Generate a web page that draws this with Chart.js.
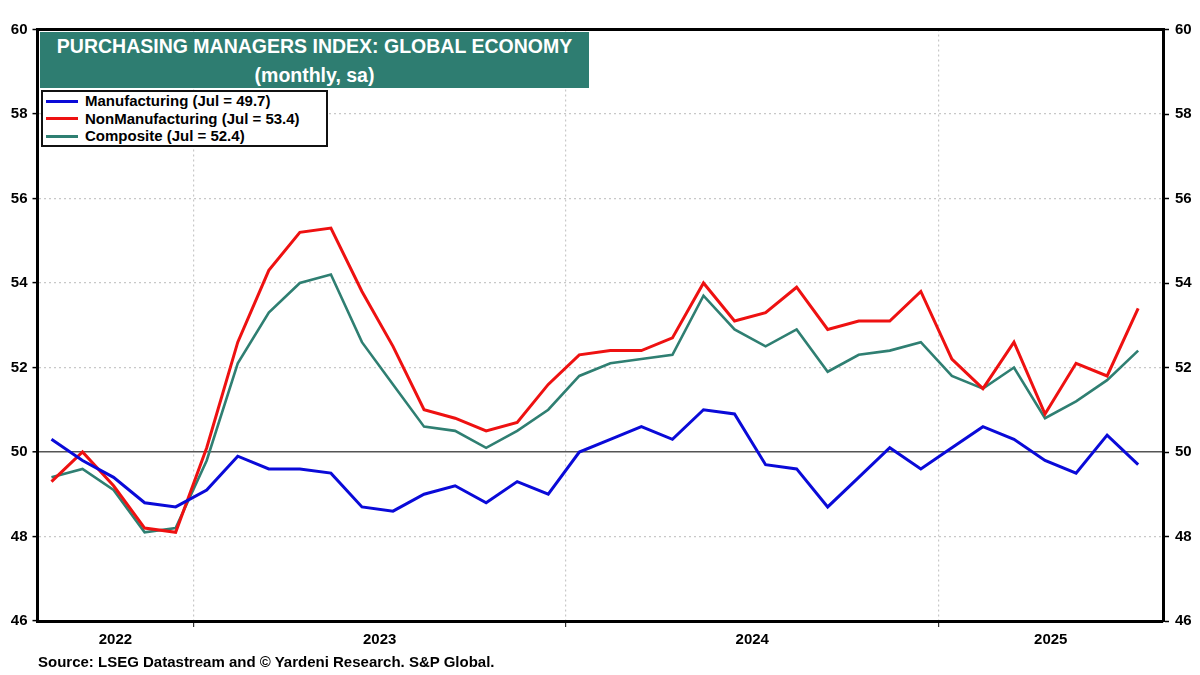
<!DOCTYPE html>
<html>
<head>
<meta charset="utf-8">
<title>Purchasing Managers Index: Global Economy</title>
<script src="https://cdn.jsdelivr.net/npm/chart.js@4.4.1/dist/chart.umd.min.js"></script>
<style>
  html, body { margin: 0; padding: 0; background: #fff; }
  body { width: 1200px; height: 675px; position: relative; overflow: hidden; font-family: 'Liberation Sans', Arial, sans-serif; }
  #pmiChart { position: absolute; left: 0; top: 0; }
  .title-box { position: absolute; left: 40px; top: 32px; width: 549px; height: 56px; background: #2e7d71; color: #fff; font-weight: bold; font-size: 19.5px; line-height: 29px; text-align: center; }
  .legend-box { position: absolute; left: 41px; top: 90px; width: 287px; height: 57px; box-sizing: border-box; border: 2px solid #111; background: #fff; }
  .legend-item { position: relative; height: 17.6px; line-height: 17.6px; font-size: 15px; font-weight: bold; color: #000; padding-left: 42px; white-space: nowrap; }
  .legend-item span { position: absolute; left: 3px; top: 7.5px; width: 32px; height: 3px; }
  .source { position: absolute; left: 38px; top: 653px; font-size: 15px; font-weight: bold; line-height: 18px; color: #000; white-space: nowrap; }
</style>
</head>
<body>
<canvas id="pmiChart" width="1200" height="675"></canvas>
<div class="title-box">PURCHASING MANAGERS INDEX: GLOBAL ECONOMY<br>(monthly, sa)</div>
<div class="legend-box" id="pmiLegend"></div>
<div class="source">Source: LSEG Datastream and © Yardeni Research. S&amp;P Global.</div>
<script>
// ===== PMI data, Aug 2022 - Jul 2025 =====
const months = [
  '2022-08', '2022-09', '2022-10', '2022-11', '2022-12',
  '2023-01', '2023-02', '2023-03', '2023-04', '2023-05', '2023-06', '2023-07', '2023-08', '2023-09', '2023-10', '2023-11', '2023-12',
  '2024-01', '2024-02', '2024-03', '2024-04', '2024-05', '2024-06', '2024-07', '2024-08', '2024-09', '2024-10', '2024-11', '2024-12',
  '2025-01', '2025-02', '2025-03', '2025-04', '2025-05', '2025-06', '2025-07'
];
const yearLabels = ['2022', '2023', '2024', '2025'];
const yTicks = [46, 48, 50, 52, 54, 56, 58, 60];

const manufacturing = [
  50.3, 49.8, 49.4, 48.8, 48.7,
  49.1, 49.9, 49.6, 49.6, 49.5, 48.7, 48.6, 49.0, 49.2, 48.8, 49.3, 49.0,
  50.0, 50.3, 50.6, 50.3, 51.0, 50.9, 49.7, 49.6, 48.7, 49.4, 50.1, 49.6,
  50.1, 50.6, 50.3, 49.8, 49.5, 50.4, 49.7
];
const nonManufacturing = [
  49.3, 50.0, 49.2, 48.2, 48.1,
  50.1, 52.6, 54.3, 55.2, 55.3, 53.8, 52.5, 51.0, 50.8, 50.5, 50.7, 51.6,
  52.3, 52.4, 52.4, 52.7, 54.0, 53.1, 53.3, 53.9, 52.9, 53.1, 53.1, 53.8,
  52.2, 51.5, 52.6, 50.9, 52.1, 51.8, 53.4
];
const composite = [
  49.4, 49.6, 49.1, 48.1, 48.2,
  49.8, 52.1, 53.3, 54.0, 54.2, 52.6, 51.6, 50.6, 50.5, 50.1, 50.5, 51.0,
  51.8, 52.1, 52.2, 52.3, 53.7, 52.9, 52.5, 52.9, 51.9, 52.3, 52.4, 52.6,
  51.8, 51.5, 52.0, 50.8, 51.2, 51.7, 52.4
];

const MONTH_NAMES = ['Jan', 'Feb', 'Mar', 'Apr', 'May', 'Jun', 'Jul', 'Aug', 'Sep', 'Oct', 'Nov', 'Dec'];
const lastMonth = MONTH_NAMES[Number(months[months.length - 1].slice(5)) - 1];

function toPoints(values) {
  return values.map((v, i) => ({ x: i, y: v }));
}

function seriesLabel(name, values) {
  return name + ' (' + lastMonth + ' = ' + values[values.length - 1].toFixed(1) + ')';
}

// x runs on month index; year borders sit just before each January
const xMin = -0.45;
const xMax = 35.8;
const yearStarts = months.map((m, i) => (m.endsWith('-01') ? i - 0.43 : null)).filter(v => v !== null);
const yearEdges = [xMin, ...yearStarts, xMax];
const yearCenters = yearLabels.map((y, i) => (yearEdges[i] + yearEdges[i + 1]) / 2);

const tickFont = { family: "'Liberation Sans', Arial, sans-serif", size: 15, weight: 'bold' };

const chart = new Chart(document.getElementById('pmiChart'), {
  type: 'line',
  data: {
    datasets: [
      { label: seriesLabel('Manufacturing', manufacturing), data: toPoints(manufacturing), borderColor: '#0a0ad8', borderWidth: 3 },
      { label: seriesLabel('NonManufacturing', nonManufacturing), data: toPoints(nonManufacturing), borderColor: '#ee1111', borderWidth: 3 },
      { label: seriesLabel('Composite', composite), data: toPoints(composite), borderColor: '#2f7f72', borderWidth: 2.6 }
    ]
  },
  options: {
    responsive: false,
    animation: false,
    layout: { padding: { top: 29.5, left: 0, right: 0, bottom: 0 } },
    elements: { point: { radius: 0 }, line: { tension: 0, fill: false } },
    plugins: { legend: { display: false }, tooltip: { enabled: false } },
    scales: {
      x: {
        type: 'linear',
        min: xMin,
        max: xMax,
        afterBuildTicks: s => {
          s.ticks = [...yearStarts, ...yearCenters].sort((a, b) => a - b).map(v => ({ value: v }));
        },
        afterFit: s => { s.height = 54; },
        grid: {
          color: c => (c.tick && yearStarts.includes(c.tick.value) ? '#c8c8c8' : 'transparent'),
          lineWidth: 1.2,
          tickColor: c => (c.tick && yearStarts.includes(c.tick.value) ? '#333' : 'transparent'),
          tickWidth: 1.2,
          tickLength: 6
        },
        border: { color: '#000', width: 3, dash: [2, 3] },
        ticks: {
          autoSkip: false,
          maxRotation: 0,
          padding: 4,
          color: '#000',
          font: tickFont,
          callback: v => {
            const k = yearCenters.indexOf(v);
            return k >= 0 ? yearLabels[k] : '';
          }
        }
      },
      y: {
        position: 'left',
        min: 46,
        max: 60,
        afterBuildTicks: s => { s.ticks = yTicks.map(v => ({ value: v })); },
        afterFit: s => { s.width = 37.5; },
        grid: {
          color: c => {
            const v = c.tick ? c.tick.value : null;
            if (v === 60) return '#000';
            if (v === 50) return '#555';
            if (v === 46) return 'transparent';
            return '#c8c8c8';
          },
          lineWidth: c => (c.tick && c.tick.value === 60 ? 3 : c.tick && c.tick.value === 50 ? 1.6 : 1.2),
          tickColor: '#000',
          tickWidth: 1.5,
          tickLength: 5
        },
        border: {
          color: '#000',
          width: 3,
          dash: c => (c.tick && (c.tick.value === 50 || c.tick.value === 60) ? [] : [2, 3])
        },
        ticks: { padding: 5, color: '#000', font: tickFont }
      },
      y2: {
        position: 'right',
        min: 46,
        max: 60,
        afterBuildTicks: s => { s.ticks = yTicks.map(v => ({ value: v })); },
        afterFit: s => { s.width = 37; },
        grid: { drawOnChartArea: false, tickColor: '#000', tickWidth: 1.5, tickLength: 6 },
        border: { color: '#000', width: 3 },
        ticks: { padding: 6, color: '#000', font: tickFont }
      }
    }
  }
});

// HTML legend built from the chart's own datasets
const legendBox = document.getElementById('pmiLegend');
chart.data.datasets.forEach(ds => {
  const item = document.createElement('div');
  item.className = 'legend-item';
  item.innerHTML = '<span style="background:' + ds.borderColor + '"></span>' + ds.label;
  legendBox.appendChild(item);
});
</script>
</body>
</html>
